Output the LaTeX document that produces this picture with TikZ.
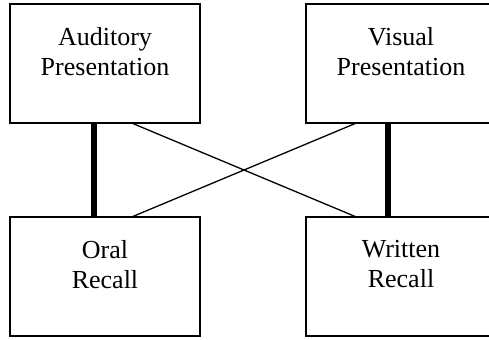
\documentclass[tikz,border=0pt]{standalone}
\usepackage{fontspec}
\setmainfont{Liberation Serif}
\usepackage{amsmath}
\usetikzlibrary{calc}

\begin{document}
\begin{tikzpicture}[x=1bp, y=-1bp, % 画像と同じ座標系
    box/.style={draw, line width=1.2bp, rectangle, minimum width=190bp, minimum height=119bp, align=center, text depth=25bp, font=\fontsize{26bp}{30bp}\selectfont},
    strong/.style={line width=6bp}, % 太線
    weak/.style={line width=1.3bp}] % 細線
    \useasboundingbox (0,0) rectangle (489,339);
    \clip (0,0) rectangle (489,339); % 右端は切れている

    \node[box] (aud) at (105,63.5) {Auditory\\Presentation}; % 上左
    \node[box] (vis) at (401,63.5) {Visual\\Presentation}; % 上右
    \node[box] (oral) at (105,276.5) {Oral\\Recall}; % 下左
    \node[box] (wri) at (401,276.5) {Written\\Recall}; % 下右

    \draw[strong] ([xshift=-11bp]aud.south) -- ([xshift=-11bp]oral.north); % 縦の太線
    \draw[strong] ([xshift=-13bp]vis.south) -- ([xshift=-13bp]wri.north);
    \draw[weak] ([xshift=28bp]aud.south) -- ([xshift=-46bp]wri.north); % 交差する線
    \draw[weak] ([xshift=-46bp]vis.south) -- ([xshift=28bp]oral.north);
\end{tikzpicture}
\end{document}
